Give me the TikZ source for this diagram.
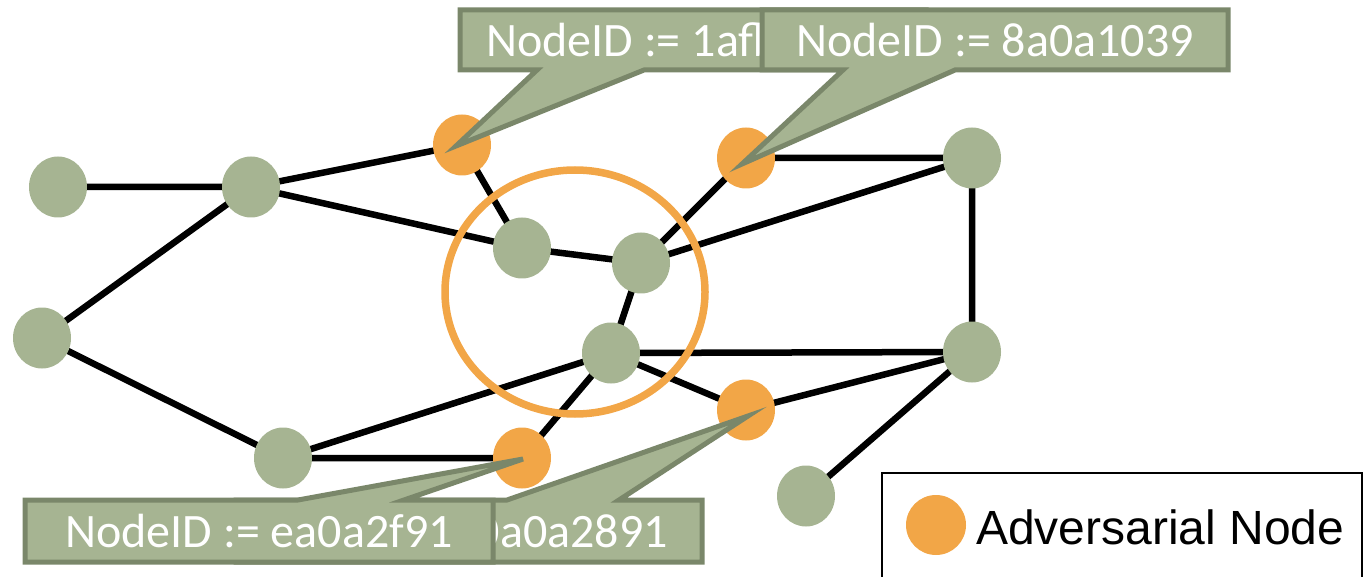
\documentclass[tikz,border=0pt]{standalone}
\usepackage{fontspec}
\setmainfont{Carlito}
\newfontfamily\legendfont{Liberation Sans}
\usetikzlibrary{shapes.geometric,backgrounds}
\definecolor{sage}{RGB}{166,180,146}
\definecolor{sageborder}{RGB}{122,135,106}
\definecolor{adv}{RGB}{242,166,71}
\begin{document}
\begin{tikzpicture}[x=1pt,y=-1pt,
  vtx/.style={ellipse,minimum width=58pt,minimum height=61pt,inner sep=0pt,fill=sage},
  advx/.style={vtx,fill=adv},
  edge/.style={line width=6.5pt,black},
  callout/.style={fill=sage,draw=sageborder,line width=5pt,line join=miter},
  idtext/.style={text=white,font=\fontsize{48}{56}\selectfont,inner sep=0pt}]
\useasboundingbox (0,0) rectangle (1365,577);
% vertices
\node[vtx]  (A) at (58,187) {};
\node[vtx]  (B) at (251,187) {};
\node[advx] (C) at (462,145) {};
\node[advx] (D) at (746,158) {};
\node[vtx]  (E) at (972,158) {};
\node[vtx]  (F) at (522,248) {};
\node[vtx]  (G) at (641,263) {};
\node[vtx]  (H) at (42,338) {};
\node[vtx]  (I) at (611,353) {};
\node[vtx]  (J) at (972,352) {};
\node[vtx]  (K) at (283,458) {};
\node[advx] (L) at (522,458) {};
\node[advx] (M) at (746,410) {};
\node[vtx]  (N) at (806,496) {};
% edges and ring behind the vertices
\begin{scope}[on background layer]
\draw[edge] (A.center)--(B.center) (B.center)--(C.center) (B.center)--(F.center) (B.center)--(H.center)
  (C.center)--(F.center) (F.center)--(G.center) (G.center)--(D.center) (G.center)--(E.center)
  (D.center)--(E.center) (E.center)--(J.center) (G.center)--(I.center) (I.center)--(J.center)
  (I.center)--(K.center) (I.center)--(L.center) (I.center)--(M.center) (M.center)--(J.center)
  (J.center)--(N.center) (H.center)--(K.center) (K.center)--(L.center);
\node[ellipse,draw=adv,line width=7.5pt,minimum width=260pt,minimum height=244pt] (ring) at (575,292) {};
\end{scope}
% top callouts
\coordinate (t1) at (456,146);
\coordinate (t2) at (742,164);
\draw[callout] (460,10)--(926,10)--(926,70)--(644,70)--(t1)--(537,70)--(460,70)--cycle;
\node[idtext,anchor=west] (id1) at (486,40) {NodeID := 1afb2e07};
\draw[callout] (762,10)--(1228,10)--(1228,70)--(955,70)--(t2)--(843,70)--(762,70)--cycle;
\node[idtext] (id2) at (995,40) {NodeID := 8a0a1039};
% bottom callouts
\coordinate (t4) at (748,416);
\coordinate (t3) at (523,459);
\draw[callout] (236,500)--(507,500)--(t4)--(619,500)--(702,500)--(702,562)--(236,562)--cycle;
\node[idtext] (id4) at (469,531) {NodeID := 0a0a2891};
\draw[callout] (25,500)--(298,500)--(t3)--(404,500)--(493,500)--(493,562)--(25,562)--cycle;
\node[idtext] (id3) at (259,531) {NodeID := ea0a2f91};
% legend
\draw[line width=2pt] (882,473) rectangle (1362,600);
\node[circle,fill=adv,minimum size=60pt,inner sep=0pt] (legdot) at (936,525) {};
\node[anchor=west,inner sep=0pt,font=\legendfont\fontsize{48}{56}\selectfont] (leg) at (976,527) {Adversarial Node};
\end{tikzpicture}
\end{document}
